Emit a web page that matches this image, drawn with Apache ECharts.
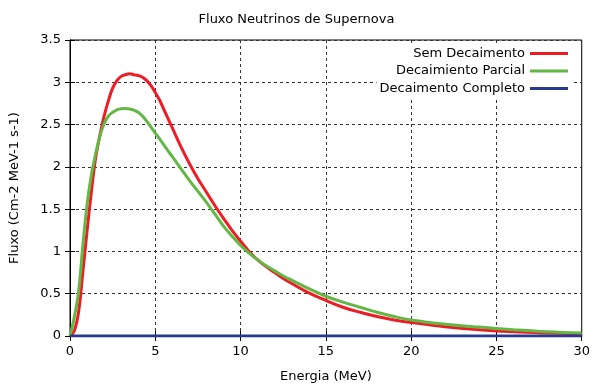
<!DOCTYPE html>
<html>
<head>
<meta charset="utf-8">
<script src="https://cdn.jsdelivr.net/npm/echarts@6/dist/echarts.min.js"></script>
<style>
html,body{margin:0;padding:0;background:#fff;}
#chart{width:593px;height:388px;}
</style>
</head>
<body>
<div id="chart"></div>
<script>
const titleText = 'Fluxo Neutrinos de Supernova';
const xName = 'Energia (MeV)';
const yName = 'Fluxo (Cm-2 MeV-1 s-1)';
const seriesNames = ['Sem Decaimento', 'Decaimiento Parcial', 'Decaimento Completo'];

const energy = [0, 0.25, 0.5, 0.75, 1, 1.25, 1.5, 1.75, 2, 2.25, 2.5, 2.75, 3, 3.25, 3.5, 3.75, 4, 4.25, 4.5, 4.75, 5, 5.25, 5.5, 5.75, 6,
  6.5, 7, 7.5, 8, 8.5, 9, 9.5, 10, 10.5, 11, 11.5, 12, 12.5, 13,
  14, 15, 16, 17, 18, 19, 20,
  22, 24, 26, 28, 30];
const semDecaimento = [0, 0.06, 0.28, 0.75, 1.24, 1.7, 2.1, 2.37, 2.6, 2.78, 2.93, 3.02, 3.07, 3.09, 3.1, 3.09, 3.08, 3.06, 3.02, 2.96, 2.88, 2.79, 2.68, 2.57, 2.46,
  2.24, 2.04, 1.86, 1.7, 1.54, 1.39, 1.25, 1.12, 1.0, 0.9, 0.82, 0.75, 0.68, 0.62,
  0.51, 0.42, 0.34, 0.28, 0.23, 0.19, 0.16,
  0.11, 0.075, 0.05, 0.035, 0.025];
const decaimentoParcial = [0, 0.22, 0.52, 1.06, 1.55, 1.9, 2.15, 2.36, 2.51, 2.6, 2.645, 2.675, 2.688, 2.69, 2.685, 2.67, 2.645, 2.6, 2.54, 2.47, 2.4, 2.33, 2.26, 2.19, 2.12,
  1.98, 1.84, 1.71, 1.58, 1.44, 1.3, 1.18, 1.07, 0.98, 0.9, 0.83, 0.77, 0.71, 0.66,
  0.56, 0.47, 0.4, 0.34, 0.28, 0.23, 0.19,
  0.14, 0.105, 0.075, 0.05, 0.035];
const decaimentoCompleto = [0, 0, 0, 0, 0, 0, 0, 0, 0, 0, 0, 0, 0, 0, 0, 0, 0, 0, 0, 0, 0, 0, 0, 0, 0,
  0, 0, 0, 0, 0, 0, 0, 0, 0, 0, 0, 0, 0, 0,
  0, 0, 0, 0, 0, 0, 0,
  0, 0, 0, 0, 0];

const xTicks = [0, 5, 10, 15, 20, 25, 30];
const yTicks = [0, 0.5, 1, 1.5, 2, 2.5, 3, 3.5];

const colors = ['#ee1c25', '#63b845', '#283a8f'];
const font = 'DejaVu Sans';

function pairs(ys) { return energy.map((e, i) => [e, ys[i]]); }

const chart = echarts.init(document.getElementById('chart'), null, {renderer: 'canvas'});
const axisLine = {show: true, lineStyle: {color: '#000', width: 1}};
const gridLine = {show: true, lineStyle: {color: '#333', type: [3, 3], width: 1}};
const tick = {show: true, inside: true, length: 5, lineStyle: {color: '#000'}};
chart.setOption({
  animation: false,
  backgroundColor: '#fff',
  textStyle: {fontFamily: font},
  title: {
    text: titleText, left: 'center', top: 8,
    textStyle: {fontFamily: font, fontSize: 13, fontWeight: 'normal', color: '#000'}
  },
  legend: {
    orient: 'vertical', right: 21, top: 44, align: 'right',
    padding: [2, 4, 2, 3], backgroundColor: '#fff',
    itemGap: 2.5, itemWidth: 38, itemHeight: 3, icon: 'rect',
    textStyle: {fontFamily: font, fontSize: 13, color: '#000', lineHeight: 15},
    data: seriesNames
  },
  grid: {left: 70, right: 10, top: 40, bottom: 48, show: true, borderColor: '#000', borderWidth: 1},
  xAxis: [{
    type: 'value', min: 0, max: 30, interval: 5,
    name: xName, nameLocation: 'middle', nameGap: 34,
    nameTextStyle: {fontFamily: font, fontSize: 13, color: '#000'},
    axisLine: axisLine, axisTick: tick,
    axisLabel: {fontFamily: font, fontSize: 13, color: '#000', margin: 9,
      formatter: v => xTicks.includes(v) ? String(v) : ''},
    splitLine: gridLine
  }, {
    type: 'value', min: 0, max: 30, interval: 5, position: 'top',
    axisLine: axisLine, axisTick: tick,
    axisLabel: {show: false}, splitLine: {show: false}
  }],
  yAxis: [{
    type: 'value', min: 0, max: 3.5, interval: 0.5,
    name: yName, nameLocation: 'middle', nameGap: 49,
    nameTextStyle: {fontFamily: font, fontSize: 13, color: '#000'},
    axisLine: axisLine, axisTick: tick,
    axisLabel: {fontFamily: font, fontSize: 13, color: '#000', margin: 9,
      formatter: v => yTicks.includes(v) ? String(v) : ''},
    splitLine: gridLine
  }, {
    type: 'value', min: 0, max: 3.5, interval: 0.5, position: 'right',
    axisLine: axisLine, axisTick: tick,
    axisLabel: {show: false}, splitLine: {show: false}
  }],
  series: [
    {name: seriesNames[0], type: 'line', data: pairs(semDecaimento), smooth: 0.4, showSymbol: false,
     lineStyle: {color: colors[0], width: 3}, itemStyle: {color: colors[0]}, z: 3},
    {name: seriesNames[1], type: 'line', data: pairs(decaimentoParcial), smooth: 0.4, showSymbol: false,
     lineStyle: {color: colors[1], width: 3}, itemStyle: {color: colors[1]}, z: 4},
    {name: seriesNames[2], type: 'line', data: pairs(decaimentoCompleto), smooth: false, showSymbol: false,
     lineStyle: {color: colors[2], width: 3}, itemStyle: {color: colors[2]}, z: 5}
  ]
});
</script>
</body>
</html>
